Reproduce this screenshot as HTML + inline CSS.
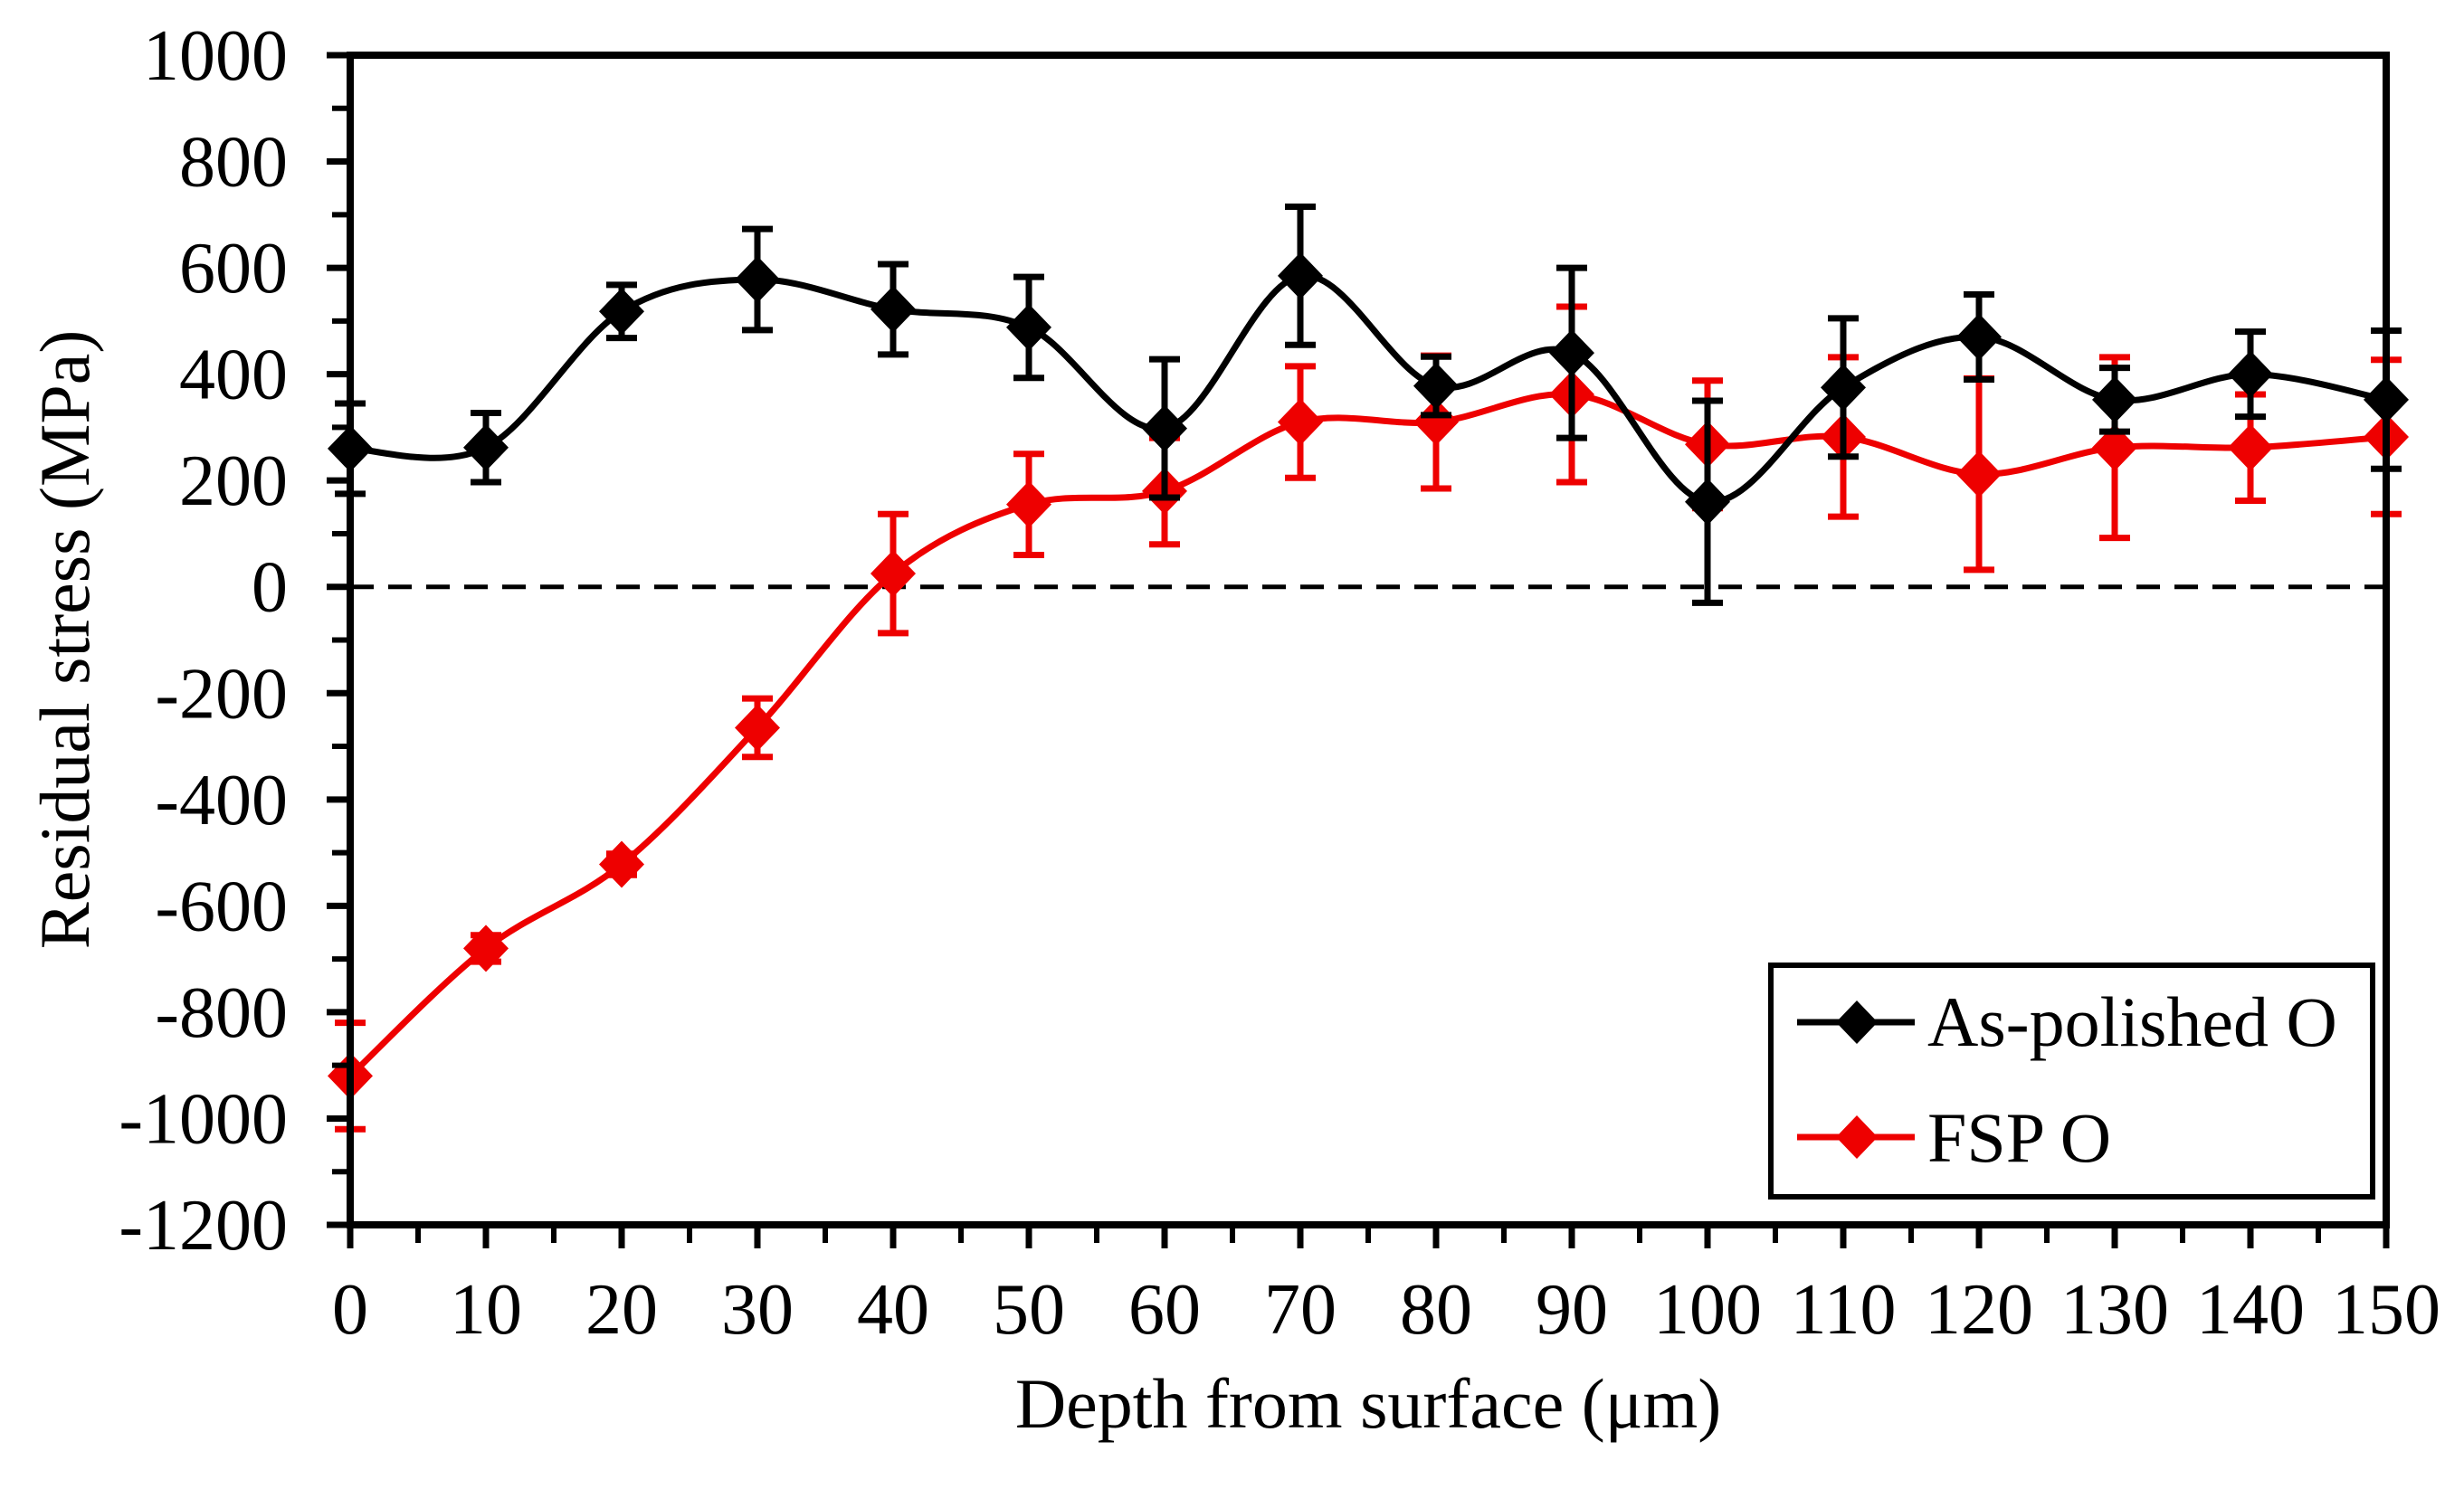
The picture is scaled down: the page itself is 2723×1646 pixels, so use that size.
<!DOCTYPE html>
<html><head><meta charset="utf-8"><style>
html,body{margin:0;padding:0;background:#fff;}
svg{display:block;font-family:"Liberation Serif","Times New Roman",serif;}
</style></head><body>
<svg id="chart" width="2723" height="1646" viewBox="0 0 2723 1646" xmlns="http://www.w3.org/2000/svg">
<rect x="0" y="0" width="2723" height="1646" fill="#fff"/>
<g id="grid"></g>
<g id="series"></g>
<g id="axes"></g>
<text x="1512" y="1578" font-size="78" text-anchor="middle">Depth from surface (μm)</text>
<text transform="translate(98,707) rotate(-90)" font-size="78" text-anchor="middle">Residual stress (MPa)</text>
<g>
<rect x="1957" y="1067" width="665" height="256" fill="#fff" stroke="#000" stroke-width="6"/>
<g>
<line x1="1986" y1="1130" x2="2116" y2="1130" stroke="#000" stroke-width="7"/>
<polygon points="2052,1106 2075,1130 2052,1154 2029,1130" fill="#000"/>
<text x="2130" y="1156" font-size="78">As-polished O</text>
</g>
<g>
<line x1="1986" y1="1257" x2="2116" y2="1257" stroke="#e00" stroke-width="7"/>
<polygon points="2052,1233 2075,1257 2052,1281 2029,1257" fill="#e00"/>
<text x="2130" y="1284" font-size="78">FSP O</text>
</g>
</g>
</svg>
<script>
const depths = [0,10,20,30,40,50,60,70,80,90,100,110,120,130,140,150];
const asPolished = [260,262,518,578,522,488,298,585,378,440,160,375,470,352,400,352];
const asPolishedErr = [85,65,50,95,85,95,130,130,55,160,190,130,80,60,80,130];
const fsp = [-920,-680,-522,-265,25,155,180,310,310,362,268,282,212,262,262,282];
const fspErr = [100,25,20,55,112,95,100,105,125,165,120,150,180,170,100,145];
const yTicks = [1000,800,600,400,200,0,-200,-400,-600,-800,-1000,-1200];
const xTicks = [0,10,20,30,40,50,60,70,80,90,100,110,120,130,140,150];

const X0=387,X1=2637,Y0=61,Y1=1354;
const xs = v => X0 + (v-0)/(150-0)*(X1-X0);
const ys = v => Y0 + (1000-v)/(1000-(-1200))*(Y1-Y0);
const NS="http://www.w3.org/2000/svg";
function mk(tag, attrs, parent){const e=document.createElementNS(NS,tag);for(const k in attrs)e.setAttribute(k,attrs[k]);parent.appendChild(e);return e;}
const axes=document.getElementById('axes'), series=document.getElementById('series'), grid=document.getElementById('grid');

const zl = mk('line',{x1:xs(0),y1:ys(0),x2:xs(150),y2:ys(0),stroke:'#000','stroke-width':5,'stroke-dasharray':'26,16'},grid);



const fr = mk('rect',{x:X0,y:Y0,width:X1-X0,height:Y1-Y0,fill:'none',stroke:'#000','stroke-width':8},axes);



yTicks.forEach(v=>{
  const y=ys(v);
  const t=mk('line',{x1:X0-26,y1:y,x2:X0,y2:y,stroke:'#000','stroke-width':7},axes);
  
  
  const l=mk('text',{x:318,y:y+27,'font-size':80,'text-anchor':'end'},axes);
  l.textContent=v;
  
  
  if(v>-1200){
    const m=mk('line',{x1:X0-20,y1:ys(v-100),x2:X0,y2:ys(v-100),stroke:'#000','stroke-width':6},axes);
    
    
  }
});
xTicks.forEach(v=>{
  const x=xs(v);
  const t=mk('line',{x1:x,y1:Y1,x2:x,y2:Y1+26,stroke:'#000','stroke-width':7},axes);
  
  
  const l=mk('text',{x:x,y:1474,'font-size':80,'text-anchor':'middle'},axes);
  l.textContent=v;
  
  
  if(v<150){
    const m=mk('line',{x1:xs(v+5),y1:Y1,x2:xs(v+5),y2:Y1+20,stroke:'#000','stroke-width':6},axes);
    
    
  }
});

function smoothPath(px,py){
  let d=`M${px[0]},${py[0]}`;
  for(let i=0;i<px.length-1;i++){
    const p0=i>0?i-1:i, p3=i+2<px.length?i+2:i+1;
    const c1x=px[i]+(px[i+1]-px[p0])/6, c1y=py[i]+(py[i+1]-py[p0])/6;
    const c2x=px[i+1]-(px[p3]-px[i])/6, c2y=py[i+1]-(py[p3]-py[i])/6;
    d+=` C${c1x},${c1y} ${c2x},${c2y} ${px[i+1]},${py[i+1]}`;
  }
  return d;
}
function drawSeries(vals, errs, color, name){
  const g=mk('g',{},series);
  
  
  const px=depths.map(xs), py=vals.map(ys);
  const p=mk('path',{d:smoothPath(px,py),fill:'none',stroke:color,'stroke-width':7},g);
  
  
  depths.forEach((dv,i)=>{
    const x=xs(dv), yt=ys(vals[i]+errs[i]), yb=ys(vals[i]-errs[i]);
    const e=mk('path',{d:`M${x},${yt}V${yb}M${x-17},${yt}H${x+17}M${x-17},${yb}H${x+17}`,stroke:color,'stroke-width':7,fill:'none'},g);
    
    
  });
  depths.forEach((dv,i)=>{
    const x=xs(dv), y=ys(vals[i]);
    const m=mk('polygon',{points:`${x},${y-26} ${x+25},${y} ${x},${y+26} ${x-25},${y}`,fill:color},g);
    
    
  });
}
drawSeries(fsp, fspErr, '#e00', 'fsp');
drawSeries(asPolished, asPolishedErr, '#000', 'as-polished');
</script>
</body></html>
